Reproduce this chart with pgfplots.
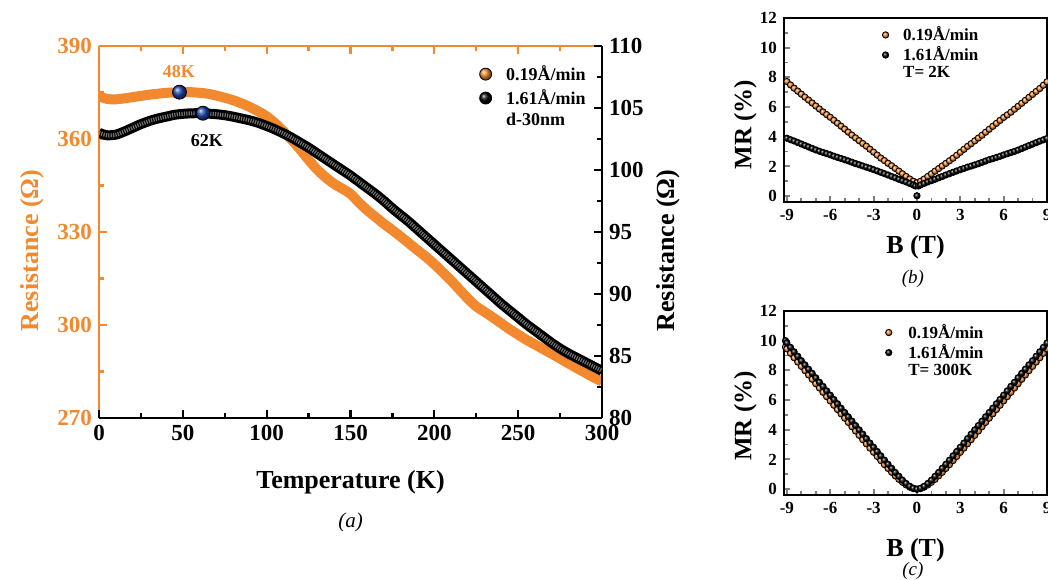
\documentclass[border=0pt]{standalone}
\usepackage{pgfplots}
\usepackage{pgfplotstable}
\pgfplotsset{compat=1.18}
\usepackage{fontspec}
\setmainfont{Liberation Serif}
\usetikzlibrary{shadings}
\definecolor{orng}{RGB}{242,137,46}
\definecolor{bblue}{RGB}{30,70,175}
\pgfplotstableread{
T R
0 373.8
2 373.4
5 372.9
10 372.8
15 373.1
20 373.5
25 373.9
30 374.3
35 374.6
40 374.9
45 375.0
50 375.1
55 375.1
60 374.9
65 374.6
70 374.0
75 373.3
80 372.5
85 371.5
90 370.3
95 368.9
100 367.3
105 365.1
110 362.5
115 359.7
120 356.6
125 353.3
130 350.2
135 347.7
140 345.6
145 344.0
150 342.3
155 339.5
160 337.0
165 334.8
170 332.6
175 330.6
180 328.5
185 326.3
190 324.1
195 322.0
200 319.6
205 317.0
210 314.3
215 311.4
220 308.5
225 306.0
230 304.2
235 302.4
240 300.5
245 298.6
250 296.9
255 295.2
260 293.7
265 292.2
270 290.7
275 289.2
280 287.6
285 286.1
290 284.6
295 283.1
300 281.8
}\orangeT
\pgfplotstableread{
T R
0 103.0
2 102.9
5 102.8
10 102.85
15 103.1
20 103.4
25 103.7
30 103.95
35 104.15
40 104.3
45 104.45
50 104.53
55 104.57
60 104.58
65 104.55
70 104.5
75 104.42
80 104.3
85 104.15
90 104.0
95 103.8
100 103.55
105 103.27
110 102.95
115 102.6
120 102.2
125 101.8
130 101.35
135 100.9
140 100.45
145 100.0
150 99.55
155 99.05
160 98.55
165 98.05
170 97.5
175 96.9
180 96.35
185 95.8
190 95.2
195 94.6
200 94.0
205 93.4
210 92.8
215 92.2
220 91.6
225 91.0
230 90.4
235 89.8
240 89.2
245 88.65
250 88.1
255 87.55
260 87.05
265 86.55
270 86.05
275 85.6
280 85.2
285 84.85
290 84.5
295 84.15
300 83.8
}\blackT
\begin{document}
\begin{tikzpicture}
\pgfplotsset{
  base/.style={scale only axis, /pgf/number format/assume math mode=true, clip mode=individual,
    tick align=inside, major tick length=4pt, minor tick length=2.5pt},
  ballmark/.style={only marks, mark=ball, mark size=#1},
}
% ---------------- panel (a), left axis ----------------
\begin{axis}[base, at={(49.5pt,80.5pt)}, anchor=south west, width=251.5pt, height=186pt,
  xmin=0, xmax=300, ymin=270, ymax=390,
  axis x line*=top, axis y line*=left,
  xtick={0,50,...,300}, minor x tick num=1, xticklabels={},
  ytick={270,300,...,390}, minor y tick num=1,
  axis line style={draw=orng, line width=1.4pt},
  tick style={draw=orng, line width=1.1pt},
  yticklabel style={font=\fontsize{11.5}{13}\selectfont\bfseries, text=orng},
  every axis y label/.style={at={(axis description cs:-0.133,0.45)}, anchor=center, rotate=90,
    font=\fontsize{13}{15}\selectfont\bfseries, text=orng},
  ylabel={Resistance (Ω)},
]
\addplot[orng, line width=5pt, smooth, forget plot] table[x=T,y=R] {\orangeT};
\addplot[ballmark=3.5pt, mark options={ball color=bblue}, forget plot] coordinates {(48,375.1)};
\node[font=\fontsize{9}{10}\selectfont\bfseries, text=orng] at (axis cs:47.7,381.6) {48K};
\end{axis}
% ---------------- panel (a), right axis ----------------
\begin{axis}[base, at={(49.5pt,80.5pt)}, anchor=south west, width=251.5pt, height=186pt,
  xmin=0, xmax=300, ymin=80, ymax=110,
  axis x line*=bottom, axis y line*=right,
  xtick={0,50,...,300}, minor x tick num=1,
  ytick={80,85,...,110}, minor y tick num=1,
  axis line style={draw=black, line width=1.4pt},
  tick style={draw=black, line width=1.1pt},
  ticklabel style={font=\fontsize{11.5}{13}\selectfont\bfseries},
  every axis x label/.style={at={(axis description cs:0.5,-0.172)}, anchor=center,
    font=\fontsize{13}{15}\selectfont\bfseries},
  every axis y label/.style={at={(axis description cs:1.131,0.45)}, anchor=center, rotate=90,
    font=\fontsize{13}{15}\selectfont\bfseries},
  xlabel={Temperature (K)}, ylabel={Resistance (Ω)},
  legend style={at={(rel axis cs:0.722,0.971)}, anchor=north west, draw=none, fill=none,
    font=\fontsize{9}{10}\selectfont\bfseries, row sep=-1pt,
    /tikz/every odd column/.append style={column sep=5pt}},
  legend cell align=left,
]
\addplot[black, line width=5pt, smooth, forget plot] table[x=T,y=R] {\blackT};
\addplot[black!55, line width=2pt, dash pattern=on 0.6pt off 0.6pt, smooth, forget plot] table[x=T,y=R] {\blackT};
\addplot[ballmark=3.5pt, mark options={ball color=bblue}, forget plot] coordinates {(62,104.58)};
\node[font=\fontsize{9}{10}\selectfont\bfseries] at (axis cs:64.4,102.4) {62K};
\addlegendimage{ballmark=3pt, mark options={ball color=orng}}
\addlegendentry{0.19Å/min}
\addlegendimage{ballmark=3pt, mark options={ball color=black}}
\addlegendentry{1.61Å/min}
\addlegendimage{empty legend}
\addlegendentry{d-30nm}
\node[font=\fontsize{10.5}{12}\selectfont\itshape] at (axis description cs:0.5,-0.28) {(a)};
\end{axis}
% ---------------- panel (b) ----------------
\begin{axis}[base, at={(392pt,188.5pt)}, anchor=south west, width=131.5pt, height=92pt,
  xmin=-9.2, xmax=9.0, ymin=-0.4, ymax=12,
  xtick={-9,-6,...,9}, minor x tick num=2, ytick={0,2,...,12}, minor y tick num=1,
  xtick pos=bottom, ytick pos=left,
  major tick length=3pt, minor tick length=2pt,
  axis line style={line width=1.2pt}, tick style={line width=0.9pt},
  ticklabel style={font=\fontsize{8.5}{10}\selectfont\bfseries},
  every axis x label/.style={at={(axis description cs:0.5,-0.245)}, anchor=center,
    font=\fontsize{13}{15}\selectfont\bfseries},
  every axis y label/.style={at={(axis description cs:-0.147,0.42)}, anchor=center, rotate=90,
    font=\fontsize{12.5}{15}\selectfont\bfseries},
  xlabel={B (T)}, ylabel={MR (\%)},
  legend style={at={(rel axis cs:0.297,1.0)}, anchor=north west, draw=none, fill=none,
    font=\fontsize{8.5}{10}\selectfont\bfseries, row sep=-2.5pt,
    /tikz/every odd column/.append style={column sep=5pt}},
  legend cell align=left,
]
\addplot[ballmark=1.6pt, mark options={ball color=orng}] coordinates {
(-9,7.72) (-8.75,7.49) (-8.5,7.27) (-8.25,7.07) (-8,6.87) (-7.75,6.67) (-7.5,6.47) (-7.25,6.27)
(-7,6.07) (-6.75,5.87) (-6.5,5.67) (-6.25,5.49) (-6,5.31) (-5.75,5.11) (-5.5,4.91) (-5.25,4.71)
(-5,4.51) (-4.75,4.31) (-4.5,4.11) (-4.25,3.92) (-4,3.73) (-3.75,3.54) (-3.5,3.36) (-3.25,3.16)
(-3,2.96) (-2.75,2.76) (-2.5,2.56) (-2.25,2.39) (-2,2.21) (-1.75,2.04) (-1.5,1.86) (-1.25,1.68)
(-1,1.5) (-0.75,1.32) (-0.5,1.15) (-0.25,1.0) (0,0.9)
(0.25,1.0) (0.5,1.15) (0.75,1.32) (1,1.5) (1.25,1.68) (1.5,1.85) (1.75,2.03) (2,2.2)
(2.25,2.38) (2.5,2.55) (2.75,2.75) (3,2.95) (3.25,3.15) (3.5,3.35) (3.75,3.53) (4,3.72)
(4.25,3.91) (4.5,4.1) (4.75,4.3) (5,4.5) (5.25,4.7) (5.5,4.9) (5.75,5.1) (6,5.3)
(6.25,5.47) (6.5,5.65) (6.75,5.85) (7,6.05) (7.25,6.25) (7.5,6.45) (7.75,6.65) (8,6.85)
(8.25,7.05) (8.5,7.25) (8.75,7.47) (9,7.7)};
\addlegendentry{0.19Å/min}
\addplot[ballmark=1.6pt, mark options={ball color=black}] coordinates {
(-9,3.9) (-8.75,3.8) (-8.5,3.71) (-8.25,3.61) (-8,3.51) (-7.75,3.41) (-7.5,3.31) (-7.25,3.21)
(-7,3.11) (-6.75,3.02) (-6.5,2.94) (-6.25,2.86) (-6,2.78) (-5.75,2.69) (-5.5,2.61) (-5.25,2.53)
(-5,2.45) (-4.75,2.37) (-4.5,2.28) (-4.25,2.19) (-4,2.11) (-3.75,2.03) (-3.5,1.95) (-3.25,1.87)
(-3,1.78) (-2.75,1.69) (-2.5,1.6) (-2.25,1.51) (-2,1.42) (-1.75,1.32) (-1.5,1.23) (-1.25,1.13)
(-1,1.04) (-0.75,0.95) (-0.5,0.85) (-0.25,0.75) (-0.1,0.68) (0,0.02) (0.1,0.68)
(0.25,0.75) (0.5,0.85) (0.75,0.95) (1,1.04) (1.25,1.13) (1.5,1.23) (1.75,1.32) (2,1.42)
(2.25,1.51) (2.5,1.6) (2.75,1.69) (3,1.78) (3.25,1.86) (3.5,1.95) (3.75,2.02) (4,2.1)
(4.25,2.18) (4.5,2.27) (4.75,2.36) (5,2.45) (5.25,2.52) (5.5,2.6) (5.75,2.68) (6,2.77)
(6.25,2.85) (6.5,2.93) (6.75,3.01) (7,3.1) (7.25,3.2) (7.5,3.3) (7.75,3.4) (8,3.5)
(8.25,3.6) (8.5,3.7) (8.75,3.79) (9,3.88)};
\addlegendentry{1.61Å/min}
\addlegendimage{empty legend}
\addlegendentry{T= 2K}
\node[font=\fontsize{9.5}{10}\selectfont\itshape] at (axis description cs:0.49,-0.42) {(b)};
\end{axis}
% ---------------- panel (c) ----------------
\begin{axis}[base, at={(392pt,42pt)}, anchor=south west, width=131.5pt, height=92pt,
  xmin=-9.2, xmax=9.0, ymin=-0.4, ymax=12,
  xtick={-9,-6,...,9}, minor x tick num=2, ytick={0,2,...,12}, minor y tick num=1,
  xtick pos=bottom, ytick pos=left,
  major tick length=3pt, minor tick length=2pt,
  axis line style={line width=1.2pt}, tick style={line width=0.9pt},
  ticklabel style={font=\fontsize{8.5}{10}\selectfont\bfseries},
  every axis x label/.style={at={(axis description cs:0.5,-0.3)}, anchor=center,
    font=\fontsize{13}{15}\selectfont\bfseries},
  every axis y label/.style={at={(axis description cs:-0.147,0.43)}, anchor=center, rotate=90,
    font=\fontsize{12.5}{15}\selectfont\bfseries},
  xlabel={B (T)}, ylabel={MR (\%)},
  legend style={at={(rel axis cs:0.309,0.975)}, anchor=north west, draw=none, fill=none,
    font=\fontsize{8.5}{10}\selectfont\bfseries, row sep=-2.5pt,
    /tikz/every odd column/.append style={column sep=6pt}},
  legend cell align=left,
]
\addplot[ballmark=1.6pt, mark options={ball color=orng}] coordinates {
(-9.1,9.57) (-9,9.45) (-8.75,9.15) (-8.5,8.85) (-8.25,8.56) (-8,8.27) (-7.75,7.98) (-7.5,7.69) (-7.25,7.4)
(-7,7.1) (-6.75,6.81) (-6.5,6.52) (-6.25,6.23) (-6,5.94) (-5.75,5.65) (-5.5,5.36) (-5.25,5.07)
(-5,4.78) (-4.75,4.49) (-4.5,4.2) (-4.25,3.91) (-4,3.62) (-3.75,3.33) (-3.5,3.05) (-3.25,2.76)
(-3,2.48) (-2.75,2.2) (-2.5,1.92) (-2.25,1.65) (-2,1.39) (-1.75,1.13) (-1.5,0.89) (-1.25,0.66)
(-1,0.46) (-0.75,0.28) (-0.5,0.13) (-0.25,0.03) (0,-0.02)
(0.25,0.03) (0.5,0.13) (0.75,0.28) (1,0.46) (1.25,0.66) (1.5,0.89) (1.75,1.13) (2,1.39)
(2.25,1.65) (2.5,1.92) (2.75,2.2) (3,2.48) (3.25,2.76) (3.5,3.05) (3.75,3.33) (4,3.62)
(4.25,3.91) (4.5,4.2) (4.75,4.49) (5,4.78) (5.25,5.07) (5.5,5.36) (5.75,5.65) (6,5.94)
(6.25,6.23) (6.5,6.52) (6.75,6.81) (7,7.1) (7.25,7.4) (7.5,7.69) (7.75,7.98) (8,8.27)
(8.25,8.56) (8.5,8.85) (8.75,9.15) (9,9.45)};
\addlegendentry{0.19Å/min}
\addplot[ballmark=1.6pt, mark options={ball color=black}] coordinates {
(-9.1,10.0) (-9,9.85) (-8.75,9.55) (-8.5,9.25) (-8.25,8.95) (-8,8.65) (-7.75,8.37) (-7.5,8.08) (-7.25,7.8)
(-7,7.5) (-6.75,7.2) (-6.5,6.92) (-6.25,6.62) (-6,6.33) (-5.75,6.04) (-5.5,5.75) (-5.25,5.45)
(-5,5.16) (-4.75,4.87) (-4.5,4.58) (-4.25,4.28) (-4,3.99) (-3.75,3.7) (-3.5,3.4) (-3.25,3.1)
(-3,2.82) (-2.75,2.53) (-2.5,2.24) (-2.25,1.95) (-2,1.67) (-1.75,1.4) (-1.5,1.12) (-1.25,0.86)
(-1,0.6) (-0.75,0.38) (-0.5,0.19) (-0.25,0.06) (0,0.0)
(0.25,0.06) (0.5,0.19) (0.75,0.38) (1,0.6) (1.25,0.86) (1.5,1.12) (1.75,1.4) (2,1.67)
(2.25,1.95) (2.5,2.24) (2.75,2.53) (3,2.82) (3.25,3.1) (3.5,3.4) (3.75,3.7) (4,3.99)
(4.25,4.28) (4.5,4.58) (4.75,4.87) (5,5.16) (5.25,5.45) (5.5,5.75) (5.75,6.04) (6,6.33)
(6.25,6.62) (6.5,6.92) (6.75,7.2) (7,7.5) (7.25,7.8) (7.5,8.08) (7.75,8.37) (8,8.65)
(8.25,8.95) (8.5,9.25) (8.75,9.55) (9,9.85)};
\addlegendentry{1.61Å/min}
\addlegendimage{empty legend}
\addlegendentry{T= 300K}
\node[font=\fontsize{9.5}{10}\selectfont\itshape] at (axis description cs:0.49,-0.41) {(c)};
\end{axis}
\pgfresetboundingbox
\useasboundingbox (0,0) rectangle (524pt,289.5pt);
\end{tikzpicture}
\end{document}
